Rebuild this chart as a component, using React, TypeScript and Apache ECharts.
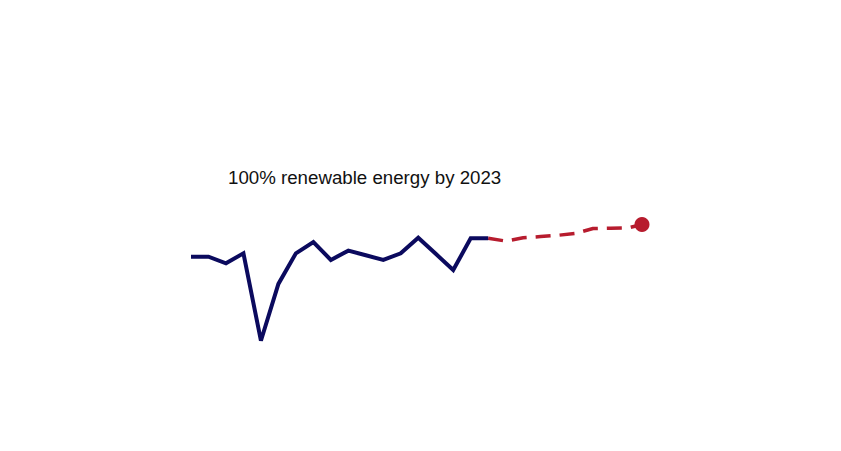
import React, { useEffect, useRef } from "react";
import * as echarts from "echarts";

// x positions (period index) and values (share, %)
const historyX = [0, 1, 2, 3, 4, 5, 6, 7, 8, 9, 10, 11, 12, 13, 14, 15, 16, 17];
const historyY = [58.3, 58.3, 54.2, 60.4, 5.8, 41.3, 60.4, 67.5, 56.3, 62.1, 59.2, 56.3, 60.4, 70.2, 60.1, 50.0, 69.8, 69.8];
const forecastX = [17, 18, 19, 20, 21, 22, 23, 24, 25, 25.8];
const forecastY = [69.8, 68.1, 70.1, 70.9, 71.7, 72.9, 75.9, 76.1, 76.3, 78.4];
const annotation = "100% renewable energy by 2023";

export default function App() {
  const ref = useRef<HTMLDivElement>(null);
  useEffect(() => {
    if (!ref.current) return;
    const chart = echarts.init(ref.current, null, { renderer: "svg" });
    const hist = historyX.map((x, i) => [x, historyY[i]]);
    const fc = forecastX.map((x, i) => [x, forecastY[i]]);
    const last = fc[fc.length - 1];
    chart.setOption({
      animation: false,
      backgroundColor: "#ffffff",
      grid: { left: 191, right: 199, top: 190, bottom: 101 },
      xAxis: {
        type: "value",
        min: 0,
        max: 25.8,
        show: false,
      },
      yAxis: {
        type: "value",
        min: 0,
        max: 100,
        show: false,
      },
      graphic: [
        {
          type: "text",
          left: 228,
          top: 168,
          style: {
            text: annotation,
            fill: "#111111",
            font: "18.7px 'Liberation Sans', Arial, sans-serif",
          },
        },
      ],
      series: [
        {
          type: "line",
          data: fc,
          showSymbol: false,
          clip: false,
          z: 2,
          lineStyle: { color: "#b71c2e", width: 3.5, type: [15, 9] },
        },
        {
          type: "line",
          data: hist,
          showSymbol: false,
          clip: false,
          z: 3,
          lineStyle: { color: "#0b0a5e", width: 4, join: "miter" },
        },
        {
          type: "scatter",
          data: [last],
          symbol: "circle",
          symbolSize: 15,
          clip: false,
          z: 4,
          itemStyle: { color: "#b71c2e", opacity: 1 },
        },
      ],
    });
    return () => chart.dispose();
  }, []);
  return <div ref={ref} style={{ width: 841, height: 451, margin: -8 }} />;
}
